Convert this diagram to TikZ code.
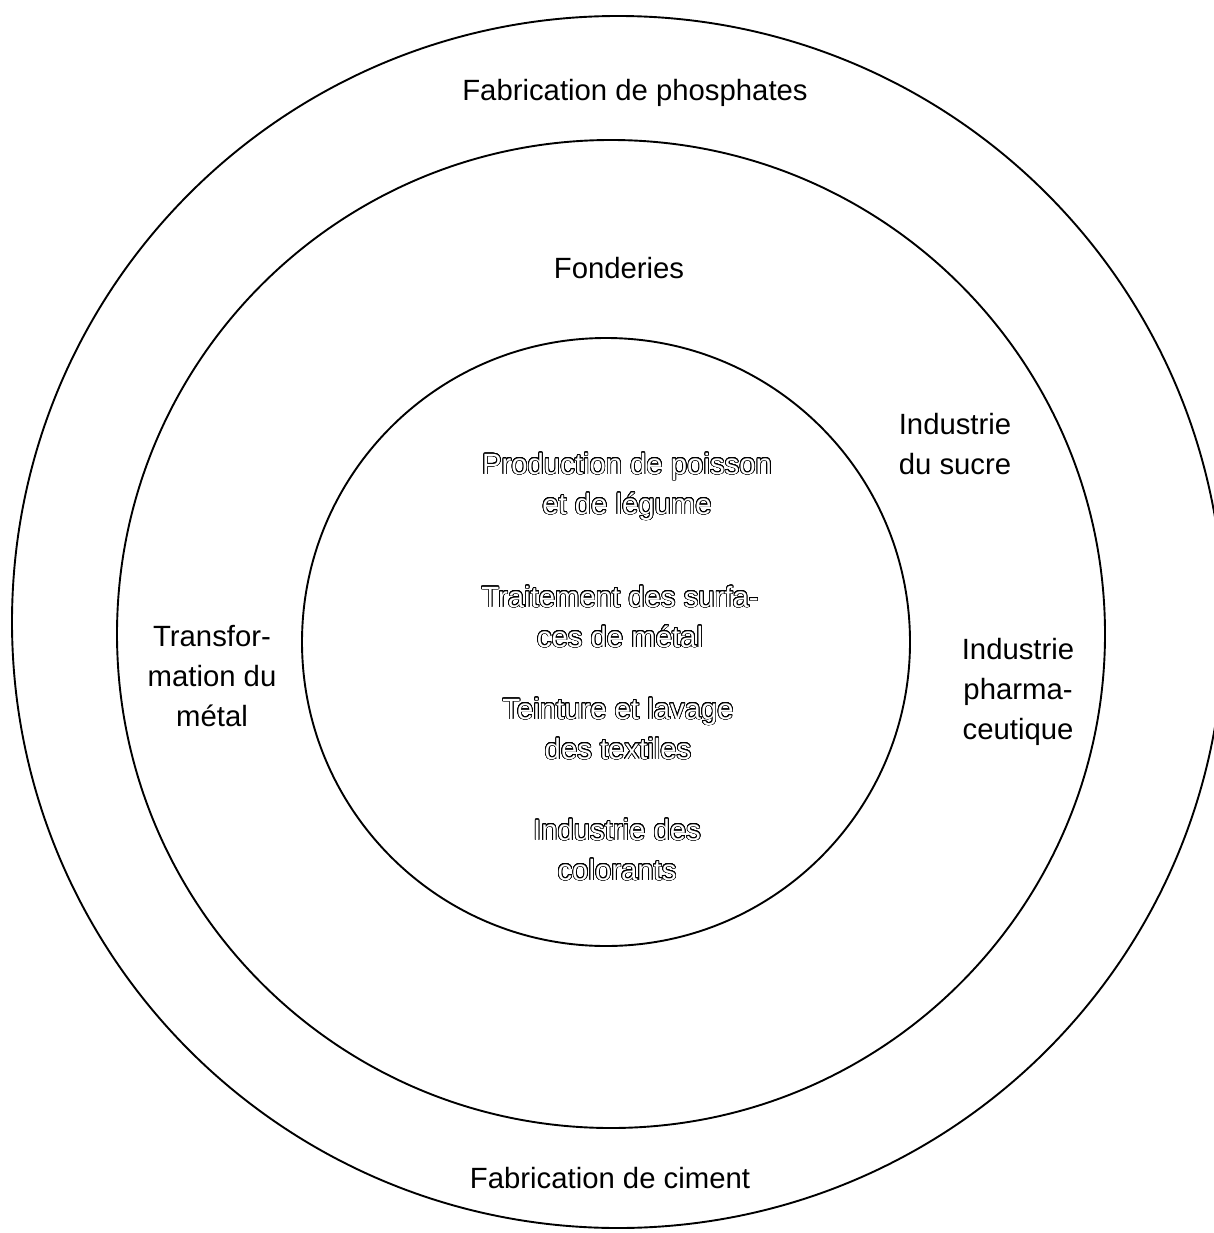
\documentclass[tikz,border=0pt]{standalone}
\usepackage{fontspec}
\setmainfont{Liberation Sans}
\usepackage[copies]{contour}
\contourlength{0.7pt}
\contournumber{32}
\newcommand{\hollow}[1]{\contour{black}{#1}}
\begin{document}
\begin{tikzpicture}[x=1pt,y=-1pt,
  ring/.style={circle,draw=black,line width=1.9pt,inner sep=0pt,outer sep=0pt},
  lbl/.style={align=center,font=\fontsize{29.3}{40}\selectfont,inner sep=0pt},
  hollowlbl/.style={lbl,text=white}]
\useasboundingbox (0,0) rectangle (1213,1233);
% three rings
\node[ring,minimum size=1212pt] (outer) at (618,622) {};
\node[ring,minimum size=988pt] (middle) at (611,634) {};
\node[ring,minimum size=608pt] (inner) at (606,642) {};
% outer ring labels
\node[lbl] (phos) at (635,93) {Fabrication de phosphates};
\node[lbl] (ciment) at (610,1178) {Fabrication de ciment};
% middle ring labels
\node[lbl] (fond) at (619,268) {Fonderies};
\node[lbl] (sucre) at (955,444) {Industrie\\du sucre};
\node[lbl] (metal) at (212,676) {Transfor-\\mation du\\métal};
\node[lbl] (pharma) at (1018,692) {Industrie\\pharma-\\ceutique};
% inner circle labels, outlined
\node[hollowlbl] (poisson) at (627,487) {\hollow{Production de poisson}\\\hollow{et de légume}};
\node[hollowlbl] (surf) at (620,617) {\hollow{Traitement des surfa-}\\\hollow{ces de métal}};
\node[hollowlbl] (textile) at (618,729) {\hollow{Teinture et lavage}\\\hollow{des textiles}};
\node[hollowlbl] (color) at (617,850) {\hollow{Industrie des}\\\hollow{colorants}};
\end{tikzpicture}
\end{document}
